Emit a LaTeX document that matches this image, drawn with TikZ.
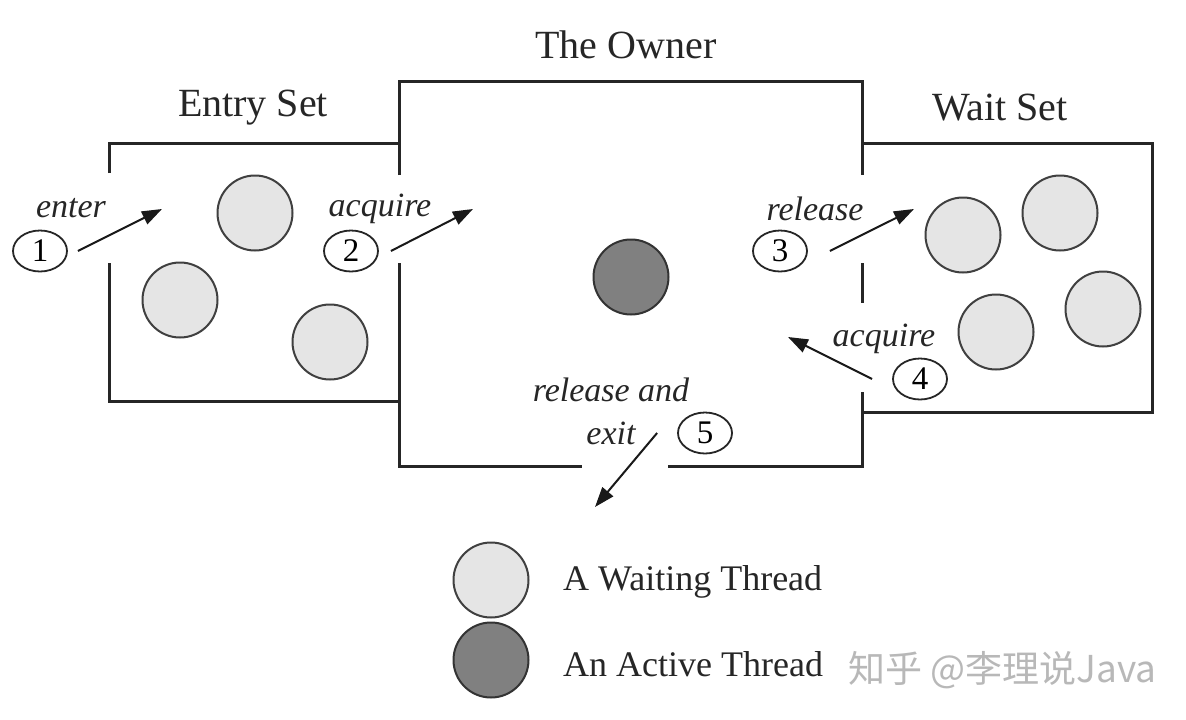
\documentclass[tikz,border=0pt]{standalone}
\usepackage{fontspec}
\setmainfont{Liberation Serif}
\newfontfamily\cjkfont{Noto Sans CJK SC}
\usetikzlibrary{arrows.meta,shapes.geometric}
\begin{document}
\begin{tikzpicture}[x=1pt,y=-1pt,
 wall/.style={line width=3pt, draw=black!85},
 waiting/.style={circle, draw=black!75, line width=2pt, fill=black!10, minimum size=75pt, inner sep=0pt},
 active/.style={circle, draw=black!80, line width=2pt, fill=black!50, minimum size=75pt, inner sep=0pt},
 num/.style={ellipse, draw=black!85, line width=1.8pt, minimum width=54pt, minimum height=41pt, inner sep=0pt, font=\fontsize{33}{33}\selectfont},
 lbl/.style={font=\fontsize{34}{36}\selectfont\itshape, inner sep=0pt, text=black!85},
 ttl/.style={font=\fontsize{40}{44}\selectfont, inner sep=0pt, text=black!85},
 leg/.style={font=\fontsize{36}{40}\selectfont, inner sep=0pt, anchor=west, text=black!85},
 arr/.style={line width=2pt, draw=black!90, -{Triangle[length=20pt,width=14pt]}},
]
\fill[white] (0,0) rectangle (1186,720);
\useasboundingbox (0,0) rectangle (1186,720);

% walls
\draw[wall] (109,173) -- (109,143) -- (399,143);
\draw[wall] (109,263) -- (109,401) -- (399,401);
\draw[wall] (399,175) -- (399,81) -- (862,81) -- (862,175);
\draw[wall] (399,263) -- (399,466) -- (582,466);
\draw[wall] (668,466) -- (862,466) -- (862,392);
\draw[wall] (862,263) -- (862,303);
\draw[wall] (862,143) -- (1152,143) -- (1152,412) -- (862,412);

% titles
\node[ttl] (tOwner) at (626,45) {The Owner};
\node[ttl] (tEntry) at (253,108) {Entry Set};
\node[ttl] (tWait) at (1000,108) {Wait Set};

% threads
\node[waiting] (e1) at (255,213) {};
\node[waiting] (e2) at (180,300) {};
\node[waiting] (e3) at (330,342) {};
\node[active] (o1) at (631,277) {};
\node[waiting] (w1) at (963,235) {};
\node[waiting] (w2) at (1060,213) {};
\node[waiting] (w3) at (996,332) {};
\node[waiting] (w4) at (1103,309) {};

% numbers
\node[num] (n1) at (40,251) {1};
\node[num] (n2) at (351,251) {2};
\node[num] (n3) at (780,251) {3};
\node[num] (n4) at (920,379) {4};
\node[num] (n5) at (705,433) {5};

% labels
\node[lbl] (l1) at (71,208) {enter};
\node[lbl] (l2) at (380,209) {acquire};
\node[lbl] (l3) at (815,209) {release};
\node[lbl] (l4) at (884,339) {acquire};
\node[lbl] (l5a) at (611,390) {release and};
\node[lbl] (l5b) at (611,433) {exit};

% arrows
\coordinate (a1) at (162,209);
\coordinate (a2) at (473,209);
\coordinate (a3) at (914,209);
\coordinate (a4) at (788,337);
\coordinate (a5) at (595,507);
\draw[arr] ([xshift=10pt]n1.east) -- (a1);
\draw[arr] ([xshift=12pt]n2.east) -- (a2);
\draw[arr] ([xshift=22pt]n3.east) -- (a3);
\draw[arr] ([xshift=-20pt]n4.west) -- (a4);
\draw[arr] ([xshift=-20pt]n5.west) -- (a5);

% legend
\node[waiting] (lw) at (491,580) {};
\node[active] (la) at (491,660) {};
\node[leg] (tw) at (563,582) {A Waiting Thread};
\node[leg] (ta) at (563,664) {An Active Thread};
\node[font=\cjkfont\fontsize{37}{40}\selectfont, text=black!28, anchor=west, inner sep=0pt] (wm) at (848,670) {知乎 @李理说Java};
\end{tikzpicture}
\end{document}
